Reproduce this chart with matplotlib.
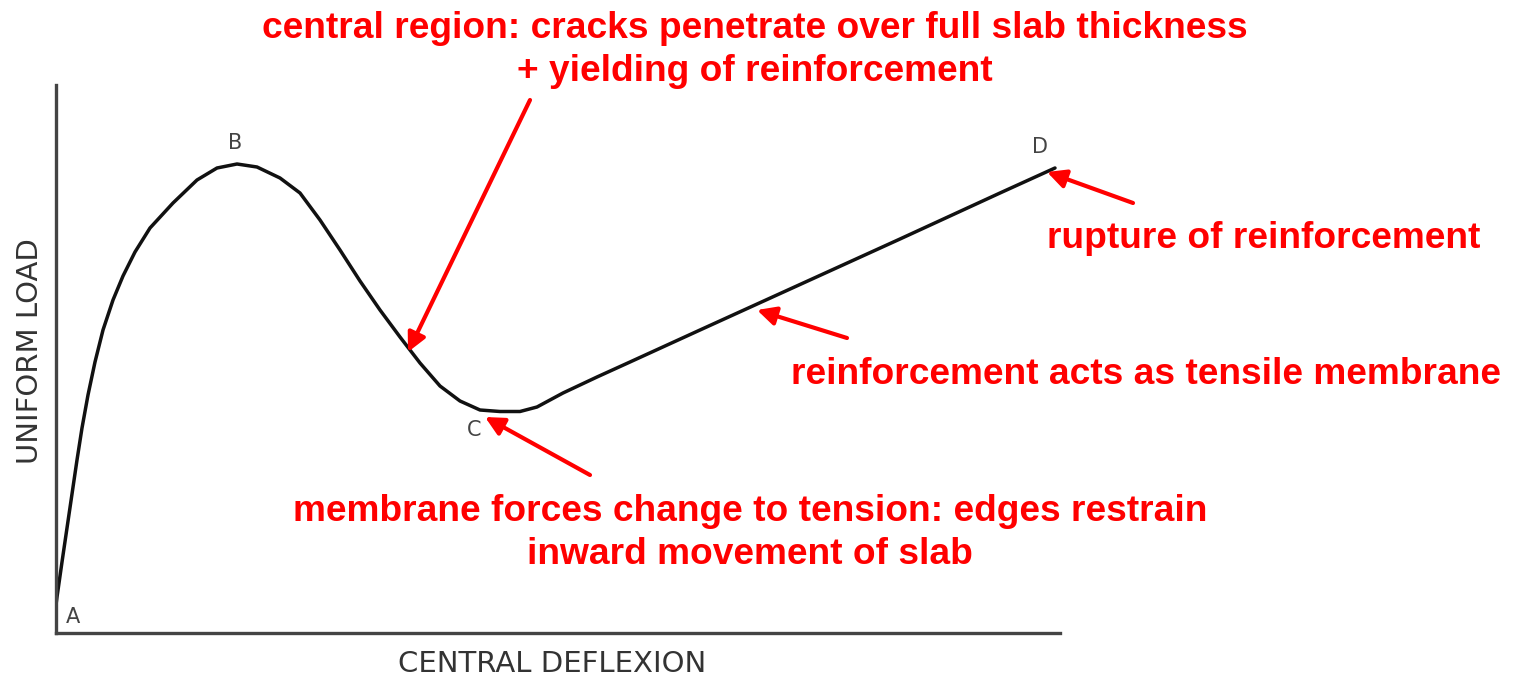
import matplotlib
matplotlib.use("Agg")
import matplotlib.pyplot as plt

# Load-deflexion curve of a restrained slab
deflexion = [0, 0, 0.1, 0.6, 1.1, 1.6, 2.1, 2.6, 3.2, 3.9, 4.7, 5.7, 6.7,
             7.9, 9.4, 11.7, 14.1, 16.1, 18.1, 20.1, 22.4, 24.4, 26.4,
             28.4, 30.4, 32.4, 34.4, 36.4, 38.4, 40.4, 42.4, 44.4, 46.4,
             48.1, 50.7, 54.1, 57.4, 64.4, 74.4, 84.4, 94.4, 99.9]
load = [0, 5.6, 7.2, 14.2, 21, 27.8, 34.6, 41, 47.6, 54.2, 60.6, 66.6, 71.4,
        76.2, 81, 86, 90.6, 93, 93.8, 93.2, 91, 88, 82.6,
        76.6, 70.4, 64.6, 59.2, 54, 49.4, 46.4, 44.6, 44.3, 44.3,
        45.2, 48, 51.2, 54.2, 60.6, 69.7, 78.8, 88, 93]

point_labels = ["A", "B", "C", "D"]
point_pos = [(1.7, 3.2), (17.9, 98), (41.8, 40.6), (98.4, 97.2)]

RED = "#ff0000"
W, H = 1519, 680

fig = plt.figure(figsize=(W / 100, H / 100), dpi=100)
ax = fig.add_axes([56 / W, (H - 633) / H, 1004 / W, 548 / H])

ax.plot(deflexion, load, color="#111111", lw=2.5,
        solid_capstyle="round", solid_joinstyle="round")
ax.set_xlim(0, 100.4)
ax.set_ylim(0, 109.6)
for s in ["top", "right"]:
    ax.spines[s].set_visible(False)
for s in ["left", "bottom"]:
    ax.spines[s].set_color("#444444")
    ax.spines[s].set_linewidth(2.4)
ax.set_xticks([])
ax.set_yticks([])

for lab, (x, y) in zip(point_labels, point_pos):
    ax.text(x, y, lab, fontsize=15, color="#444444", ha="center", va="center")

fig.text(552 / W, 1 - 664 / H, "CENTRAL DEFLEXION", fontsize=21,
         color="#333333", ha="center", va="center")
fig.text(30 / W, 1 - 351 / H, "UNIFORM LOAD", fontsize=21, rotation=90,
         color="#333333", ha="center", va="center")

# annotations
font = dict(family=["Liberation Sans", "DejaVu Sans"], fontweight="bold",
            color=RED, fontsize=26.7)
fig.text(755 / W, 1 - 50 / H,
         "central region: cracks penetrate over full slab thickness\n"
         "+ yielding of reinforcement",
         ha="center", va="center", multialignment="center",
         linespacing=1.33, **font)
fig.text(1047 / W, 1 - 238 / H, "rupture of reinforcement",
         ha="left", va="center", **font)
fig.text(791 / W, 1 - 375 / H, "reinforcement acts as tensile membrane",
         ha="left", va="center", **font)
fig.text(750 / W, 1 - 533 / H,
         "membrane forces change to tension: edges restrain\n"
         "inward movement of slab",
         ha="center", va="center", multialignment="center",
         linespacing=1.33, **font)

arrows = [((47.4, 106.6), (35.2, 56.2)),
          ((107.7, 86), (99.1, 92.2)),
          ((79.1, 59), (70.1, 64.6)),
          ((53.4, 31.6), (42.9, 43.2))]
for tail, head in arrows:
    ax.annotate("", xy=head, xytext=tail, annotation_clip=False,
                arrowprops=dict(arrowstyle="-|>", color=RED, lw=3,
                                mutation_scale=28, shrinkA=0, shrinkB=0))

fig.savefig("out.png", dpi=100, facecolor="white")
